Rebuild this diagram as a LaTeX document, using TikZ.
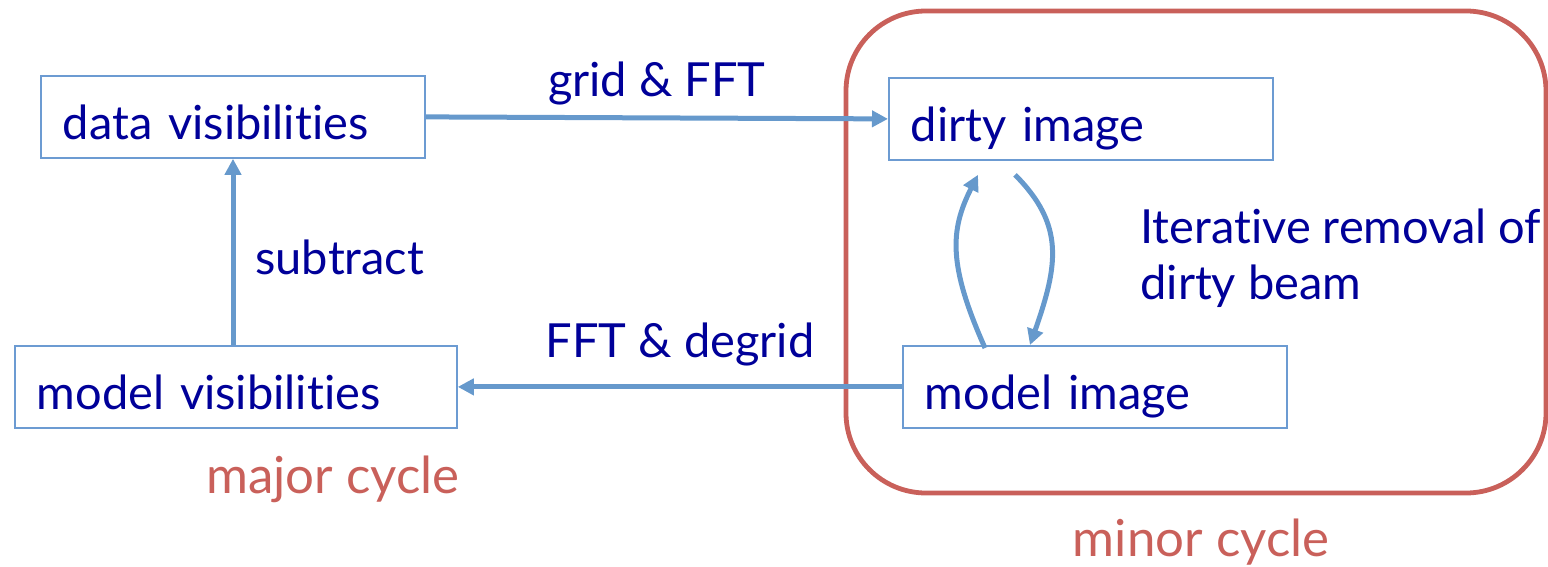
\documentclass[tikz,border=0pt]{standalone}
\usepackage{fontspec}
\setmainfont{Lato}[RawFeature={-liga}]
\usetikzlibrary{arrows.meta,calc}
\definecolor{txtblue}{HTML}{000099}
\definecolor{arrblue}{HTML}{6699CC}
\definecolor{boxblue}{HTML}{6C9BD2}
\definecolor{cycred}{HTML}{C9605A}
\begin{document}
\begin{tikzpicture}[x=0.5pt,y=-0.5pt,
  font=\fontsize{23.5}{28}\selectfont,
  box/.style={draw=boxblue, line width=0.9pt, minimum height=41pt, inner xsep=11pt,
    anchor=north west, align=left, text=txtblue, text width=#1, text height=23pt, text depth=0pt},
  arr/.style={draw=arrblue, line width=2.5pt, -{Triangle[length=8pt,width=8pt]}},
  lbl/.style={text=txtblue, inner sep=0pt},
  cyc/.style={text=cycred, inner sep=0pt, font=\fontsize{25.5}{30}\selectfont}]
\useasboundingbox (0,0) rectangle (1548,567);
% minor cycle frame
\draw[cycred, line width=2.4pt, rounded corners=40pt] (846,11) rectangle (1546,493);
\node[box=170pt] (dv) at (40,75) {data visibilities};
\node[box=170pt] (di) at (888,77) {dirty image};
\node[box=199pt] (mv) at (14,345) {model visibilities};
\node[box=170pt] (mi) at (902,345) {model image};
% arrows
\draw[arr] (dv.east) -- (di.west) node[lbl, midway, above=5pt] (l1) {grid \& FFT};
\draw[arr] (mi.west) -- (mv.east) node[lbl, midway, above=9pt] (l2) {FFT \& degrid};
\draw[arr] ([xshift=109.5pt]mv.north west) -- ([xshift=96.5pt]dv.south west);
\node[lbl, anchor=west] (sub) at (255,257) {subtract};
% minor loop
\draw[arr] ([xshift=41.5pt,yshift=-1.5pt]mi.north west) .. controls (948,265) and (950,230) .. ([xshift=45pt,yshift=-7pt]di.south west);
\draw[arr] ([xshift=63.5pt,yshift=-7pt]di.south west) .. controls (1065,225) and (1058,265) .. ([xshift=64pt]mi.north west);
\node[lbl, anchor=west, align=left] (iter) at (1140,258) {Iterative removal of\\dirty beam};
\node[cyc] (maj) at (333,479) {major cycle};
\node[cyc] (min) at (1201,542) {minor cycle};
\end{tikzpicture}
\end{document}
